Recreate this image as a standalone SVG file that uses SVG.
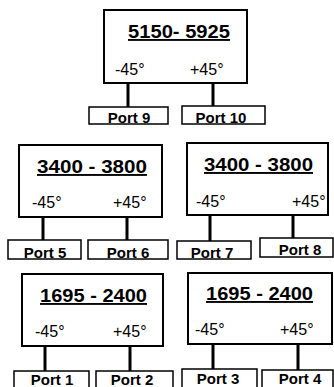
<svg xmlns="http://www.w3.org/2000/svg" width="334" height="387" viewBox="0 0 334 387">
<style>
.box{fill:#fff;stroke:#000;stroke-width:2}
.port{fill:#fff;stroke:#000;stroke-width:1.5}
.conn{stroke:#000;stroke-width:3;fill:none}
.title{font-family:"Liberation Sans",Arial,sans-serif;font-weight:bold;font-size:19px;text-decoration:underline;fill:#000}
.ang{font-family:"Liberation Sans",Arial,sans-serif;font-size:16px;fill:#000}
.pt{font-family:"Liberation Sans",Arial,sans-serif;font-weight:bold;font-size:15px;fill:#000;text-anchor:middle}
</style>
<rect width="334" height="387" fill="#fff"/>
<g id="connectors">
<line class="conn" x1="128" y1="83" x2="128" y2="107"/>
<line class="conn" x1="213" y1="83" x2="213" y2="106"/>
<line class="conn" x1="43" y1="217" x2="43" y2="240"/>
<line class="conn" x1="127" y1="217" x2="127" y2="240"/>
<line class="conn" x1="210" y1="215" x2="210" y2="241"/>
<line class="conn" x1="293" y1="215" x2="293" y2="238"/>
<line class="conn" x1="45" y1="346" x2="45" y2="371"/>
<line class="conn" x1="130" y1="346" x2="130" y2="371"/>
<line class="conn" x1="213" y1="344" x2="213" y2="369"/>
<line class="conn" x1="298" y1="344" x2="298" y2="370"/>
</g>
<g id="band-5150">
<rect class="box" x="104" y="10" width="143" height="73"/>
<text class="title" x="128" y="38" textLength="102" lengthAdjust="spacingAndGlyphs">5150- 5925</text>
<text class="ang" x="115" y="75">-45°</text>
<text class="ang" x="190" y="75">+45°</text>
</g>
<g id="band-3400-a">
<rect class="box" x="19" y="145" width="143" height="72"/>
<text class="title" x="37" y="173" textLength="110" lengthAdjust="spacingAndGlyphs">3400 - 3800</text>
<text class="ang" x="32" y="208">-45°</text>
<text class="ang" x="113" y="208">+45°</text>
</g>
<g id="band-3400-b">
<rect class="box" x="187" y="143" width="141" height="72"/>
<text class="title" x="204" y="171" textLength="109" lengthAdjust="spacingAndGlyphs">3400 - 3800</text>
<text class="ang" x="196" y="207">-45°</text>
<text class="ang" x="292" y="207">+45°</text>
</g>
<g id="band-1695-a">
<rect class="box" x="22" y="274" width="141" height="72"/>
<text class="title" x="40" y="302" textLength="107" lengthAdjust="spacingAndGlyphs">1695 - 2400</text>
<text class="ang" x="35" y="337">-45°</text>
<text class="ang" x="113" y="337">+45°</text>
</g>
<g id="band-1695-b">
<rect class="box" x="188" y="273" width="144" height="71"/>
<text class="title" x="206" y="300" textLength="107" lengthAdjust="spacingAndGlyphs">1695 - 2400</text>
<text class="ang" x="195" y="335">-45°</text>
<text class="ang" x="280" y="335">+45°</text>
</g>
<g id="port9"><rect class="port" x="89" y="107" width="79" height="17"/><text class="pt" x="129" y="123">Port 9</text></g>
<g id="port10"><rect class="port" x="182" y="106" width="83" height="18"/><text class="pt" x="221" y="123">Port 10</text></g>
<g id="port5"><rect class="port" x="8" y="240" width="73" height="19"/><text class="pt" x="45" y="258">Port 5</text></g>
<g id="port6"><rect class="port" x="88" y="240" width="80" height="19"/><text class="pt" x="128" y="258">Port 6</text></g>
<g id="port7"><rect class="port" x="177" y="241" width="74" height="18"/><text class="pt" x="212" y="258">Port 7</text></g>
<g id="port8"><rect class="port" x="260" y="238" width="73" height="19"/><text class="pt" x="300" y="255">Port 8</text></g>
<g id="port1"><rect class="port" x="14" y="371" width="75" height="20"/><text class="pt" x="52" y="385">Port 1</text></g>
<g id="port2"><rect class="port" x="96" y="371" width="77" height="20"/><text class="pt" x="132" y="385">Port 2</text></g>
<g id="port3"><rect class="port" x="182" y="369" width="75" height="22"/><text class="pt" x="218" y="384">Port 3</text></g>
<g id="port4"><rect class="port" x="262" y="370" width="71" height="21"/><text class="pt" x="300" y="384">Port 4</text></g>
</svg>
